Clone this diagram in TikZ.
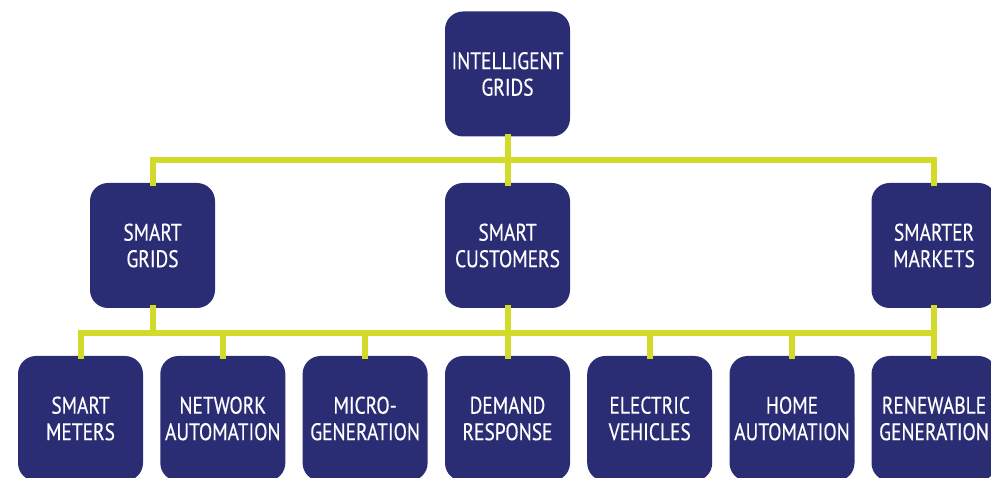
\documentclass[tikz,border=0pt]{standalone}
\usepackage{fontspec}
\setmainfont{PT Sans}
\newfontfamily\tilefont[FakeStretch=0.81,FakeBold=0.4]{PT Sans}
\definecolor{boxnavy}{RGB}{43,45,116}
\definecolor{buslime}{RGB}{210,219,42}
\begin{document}
\begin{tikzpicture}[x=1pt,y=-1pt,
  tile/.style={draw=none, fill=boxnavy, rounded corners=18pt,
    minimum width=125pt, minimum height=125pt, inner sep=0pt,
    text=white, align=center, font=\tilefont\fontsize{24}{26.5}\selectfont},
  link/.style={draw=buslime, line width=6pt, line join=miter, line cap=rect}]
\useasboundingbox (0,0) rectangle (991,478);
\clip (0,0) rectangle (991,478);

% top level
\node[tile] (ig) at (507.5,74) {INTELLIGENT\\GRIDS};

% middle level
\node[tile] (sg) at (152.5,245.5) {SMART\\GRIDS};
\node[tile] (sc) at (507.5,245.5) {SMART\\CUSTOMERS};
\node[tile] (sm) at (934,245.5) {SMARTER\\MARKETS};

% bottom level
\node[tile] (b1) at (80.5,418.5) {SMART\\METERS};
\node[tile] (b2) at (222.8,418.5) {NETWORK\\AUTOMATION};
\node[tile] (b3) at (365.1,418.5) {MICRO-\\GENERATION};
\node[tile] (b4) at (507.5,418.5) {DEMAND\\RESPONSE};
\node[tile] (b5) at (649.7,418.5) {ELECTRIC\\VEHICLES};
\node[tile] (b6) at (792,418.5) {HOME\\AUTOMATION};
\node[tile] (b7) at (934,418.5) {RENEWABLE\\GENERATION};

% bus junctions
\coordinate (busA) at (507.5,160);
\coordinate (busB) at (507.5,333);

% upper bus
\draw[link] (ig.south) -- (busA);
\draw[link] (sg.north) |- (busA) -| (sm.north);
\draw[link] (sc.north) -- (busA);

% lower bus
\draw[link] (b1.north) |- (busB) -| (b7.north);
\draw[link] (sg.south) -- (sg.south |- busB);
\draw[link] (sc.south) -- (busB);
\draw[link] (sm.south) -- (sm.south |- busB);
\foreach \n in {b2,b3,b4,b5,b6}
  \draw[link] (\n.north) -- (\n.north |- busB);
\end{tikzpicture}
\end{document}
